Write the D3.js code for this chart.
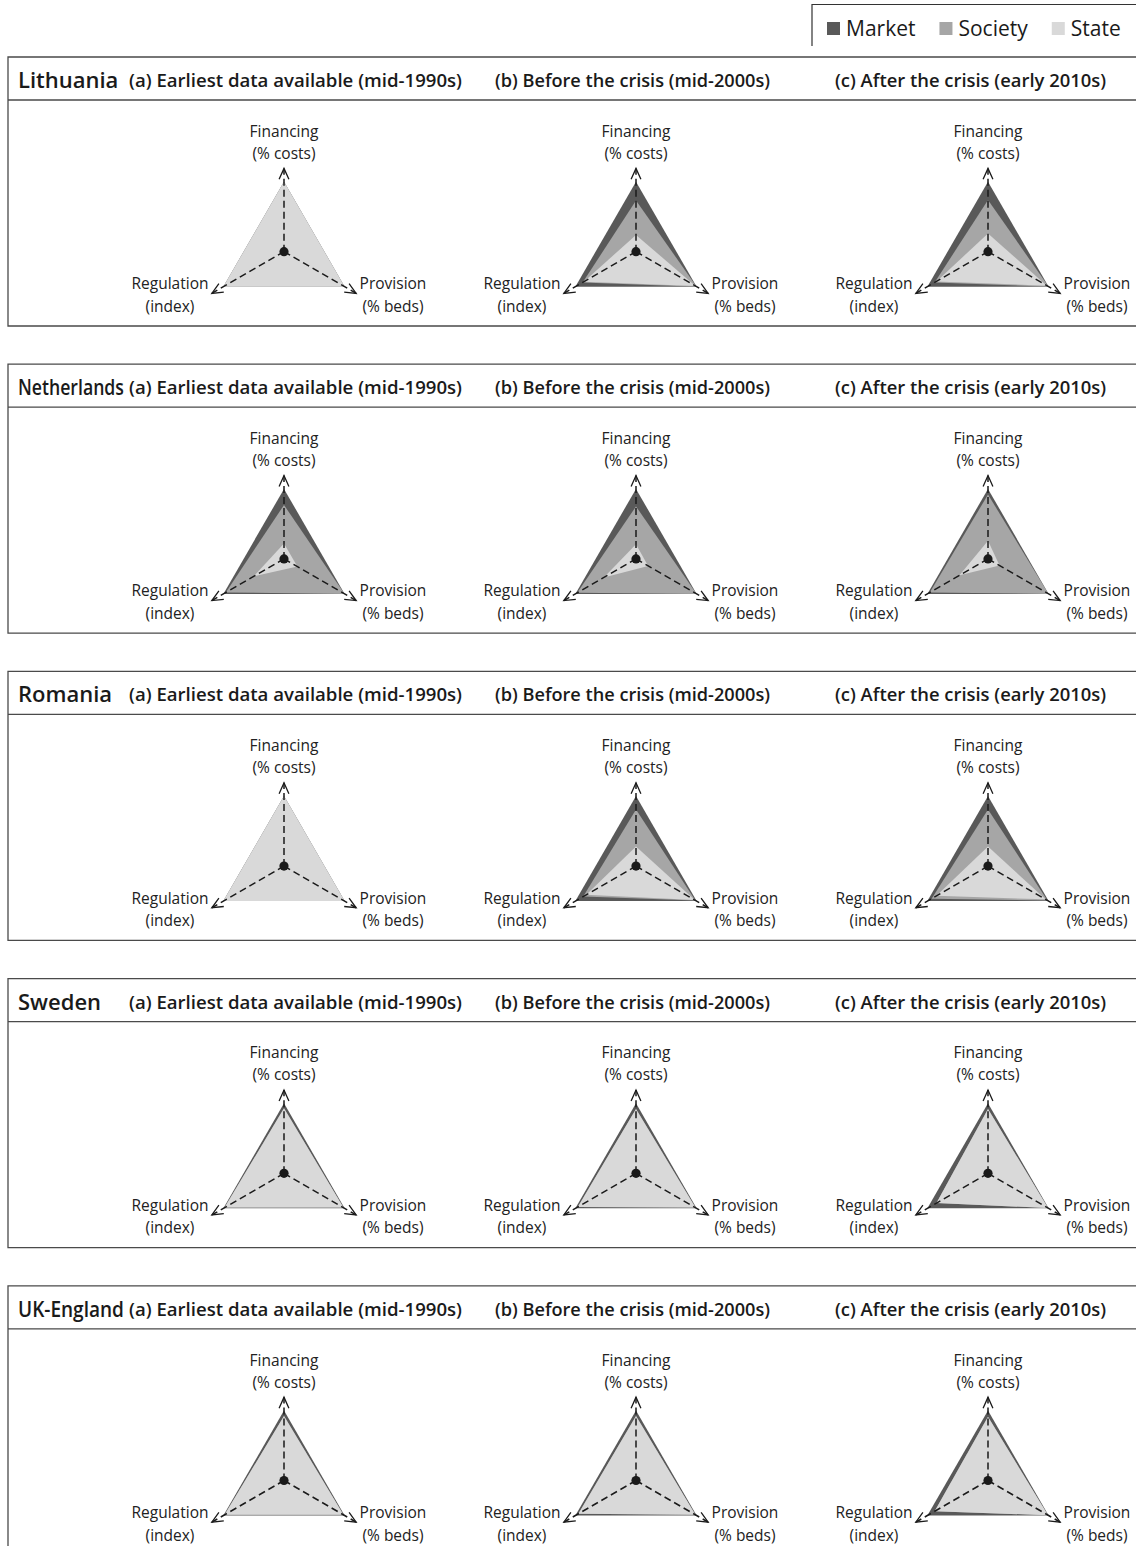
<!DOCTYPE html>
<html>
<head>
<meta charset="utf-8">
<script src="https://cdn.jsdelivr.net/npm/d3@7"></script>
<style>
  body { margin: 0; background: #fff; }
  svg { display: block; font-family: "Open Sans", "Noto Sans", sans-serif; }
</style>
</head>
<body>
<svg id="chart" width="1136" height="1546"></svg>
<script>
// Countries (rows) and periods (columns)
const countries = ["Lithuania", "Netherlands", "Romania", "Sweden", "UK-England"];
const periods = [
  "(a) Earliest data available (mid-1990s)",
  "(b) Before the crisis (mid-2000s)",
  "(c) After the crisis (early 2010s)"
];
// The three dimensions, clockwise from the top
const dimensions = ["Financing", "Provision", "Regulation"];
const dimensionUnits = ["(% costs)", "(% beds)", "(index)"];
const sectors = ["Market", "Society", "State"];

// Shares per country, per period, ordered [Financing, Provision, Regulation]
const stateShare = [
  [[1.00, 1.00, 1.00], [0.24, 0.98, 0.86], [0.26, 0.97, 0.85]], // Lithuania
  [[0.22, 0.22, 0.50], [0.21, 0.20, 0.53], [0.26, 0.19, 0.47]], // Netherlands
  [[1.00, 1.00, 1.00], [0.28, 0.97, 0.82], [0.28, 0.95, 0.85]], // Romania
  [[0.93, 0.98, 0.98], [0.92, 0.98, 0.96], [0.92, 0.99, 0.85]], // Sweden
  [[0.92, 0.98, 0.98], [0.92, 0.98, 0.95], [0.91, 0.99, 0.88]]  // UK-England
];
const societyShare = [
  [[0.00, 0.00, 0.00], [0.49, 0.02, 0.02], [0.48, 0.03, 0.03]],
  [[0.55, 0.78, 0.46], [0.54, 0.80, 0.44], [0.66, 0.81, 0.49]],
  [[0.00, 0.00, 0.00], [0.53, 0.01, 0.05], [0.53, 0.03, 0.08]],
  [[0.00, 0.00, 0.00], [0.00, 0.00, 0.00], [0.00, 0.00, 0.00]],
  [[0.00, 0.00, 0.00], [0.00, 0.00, 0.00], [0.00, 0.00, 0.00]]
];
const marketShare = [
  [[0.00, 0.00, 0.00], [0.27, 0.00, 0.12], [0.26, 0.00, 0.12]],
  [[0.23, 0.00, 0.04], [0.25, 0.00, 0.03], [0.08, 0.00, 0.04]],
  [[0.00, 0.00, 0.00], [0.19, 0.02, 0.13], [0.19, 0.02, 0.07]],
  [[0.07, 0.02, 0.02], [0.08, 0.02, 0.04], [0.08, 0.01, 0.15]],
  [[0.08, 0.02, 0.02], [0.08, 0.02, 0.05], [0.09, 0.01, 0.12]]
];

const svg = d3.select("#chart");
const ink = "#1a1a1a";

const sectorColor = d3.scaleOrdinal().domain(sectors).range(["#595959", "#a6a6a6", "#d9d9d9"]);
const radius = d3.scaleLinear().domain([0, 1]).range([0, 70]);
const angle = d3.scalePoint().domain(dimensions).range([0, 4 * Math.PI / 3]);
const rowTop = d3.scaleLinear().domain([0, countries.length - 1]).range([57, 57 + 4 * 307.2]);
const colX = d3.scalePoint().domain(periods).range([284, 988]);
const headerX = [129, 495, 835];
const headerW = [333, 275, 271];

const radial = d3.lineRadial()
  .angle(d => angle(d.dim))
  .radius(d => radius(d.value))
  .curve(d3.curveLinearClosed);

const polar = (dim, v) => {
  const a = angle(dim), r = radius(v);
  return [Math.sin(a) * r, -Math.cos(a) * r];
};

// Legend
const legend = svg.append("g");
legend.append("path")
  .attr("d", "M812,46V4.5H1140")
  .attr("fill", "none").attr("stroke", "#333").attr("stroke-width", 1.2);
let lx = 827;
sectors.forEach(s => {
  legend.append("rect").attr("x", lx).attr("y", 22).attr("width", 13).attr("height", 13)
    .attr("fill", sectorColor(s));
  const t = legend.append("text").attr("x", lx + 19).attr("y", 36)
    .attr("font-size", 21).attr("fill", ink).text(s);
  lx += 19 + t.node().getComputedTextLength() + 24;
});

countries.forEach((country, ci) => {
  const top = rowTop(ci);
  const row = svg.append("g");

  // Panel frame with header rule
  row.append("path")
    .attr("d", `M1140,${top}H8V${top + 269}H1140M8,${top + 43}H1140`)
    .attr("fill", "none").attr("stroke", "#4a4a4a").attr("stroke-width", 1.3);

  // Country name, narrowed horizontally when it would run into the first period title
  const name = row.append("text").attr("x", 0).attr("y", 0)
    .attr("font-size", 22).attr("font-weight", 600).attr("fill", ink).text(country);
  const maxW = 106;
  const k = Math.min(1, maxW / name.node().getComputedTextLength());
  name.attr("transform", `translate(18,${top + 31}) scale(${k},1)`);

  periods.forEach((period, pi) => {
    row.append("text").attr("x", headerX[pi]).attr("y", top + 30)
      .attr("font-size", 18).attr("font-weight", 600).attr("fill", ink)
      .attr("textLength", headerW[pi]).attr("lengthAdjust", "spacingAndGlyphs")
      .text(period);

    const cx = colX(period), cy = top + 194.7;
    const g = row.append("g").attr("transform", `translate(${cx},${cy})`);

    // Stacked layers: outermost is the total, then state + society, then state
    const layers = sectors.map(sector => ({
      sector,
      points: dimensions.map((dim, di) => {
        const st = stateShare[ci][pi][di];
        const so = societyShare[ci][pi][di];
        const mk = marketShare[ci][pi][di];
        const value = sector === "State" ? st : sector === "Society" ? st + so : st + so + mk;
        return { dim, value };
      })
    }));
    g.selectAll("path.layer").data(layers).join("path")
      .attr("class", "layer")
      .attr("d", d => radial(d.points))
      .attr("fill", d => sectorColor(d.sector));

    // Dashed axes with open arrowheads
    dimensions.forEach(dim => {
      const [tx, ty] = polar(dim, 1.19);
      g.append("line").attr("x1", 0).attr("y1", 0).attr("x2", tx).attr("y2", ty)
        .attr("stroke", ink).attr("stroke-width", 1.5).attr("stroke-dasharray", "7,4");
      const a = Math.atan2(ty, tx), len = 12, spread = 0.42;
      const p1 = [tx - len * Math.cos(a - spread), ty - len * Math.sin(a - spread)];
      const p2 = [tx - len * Math.cos(a + spread), ty - len * Math.sin(a + spread)];
      g.append("path").attr("d", `M${p1}L${tx},${ty}L${p2}`)
        .attr("fill", "none").attr("stroke", ink).attr("stroke-width", 1.3);
    });
    g.append("circle").attr("r", 4.6).attr("fill", ink);

    // Axis labels
    const labelPos = {
      Financing: [0, -115, -93],
      Provision: [109, 37.6, 60],
      Regulation: [-114, 37.6, 60]
    };
    dimensions.forEach((dim, di) => {
      const [x, y1, y2] = labelPos[dim];
      const t = g.append("text").attr("text-anchor", "middle")
        .attr("font-size", 15.5).attr("fill", "#222");
      t.append("tspan").attr("x", x).attr("y", y1).text(dim);
      t.append("tspan").attr("x", x).attr("y", y2).text(dimensionUnits[di]);
    });
  });
});
</script>
</body>
</html>
